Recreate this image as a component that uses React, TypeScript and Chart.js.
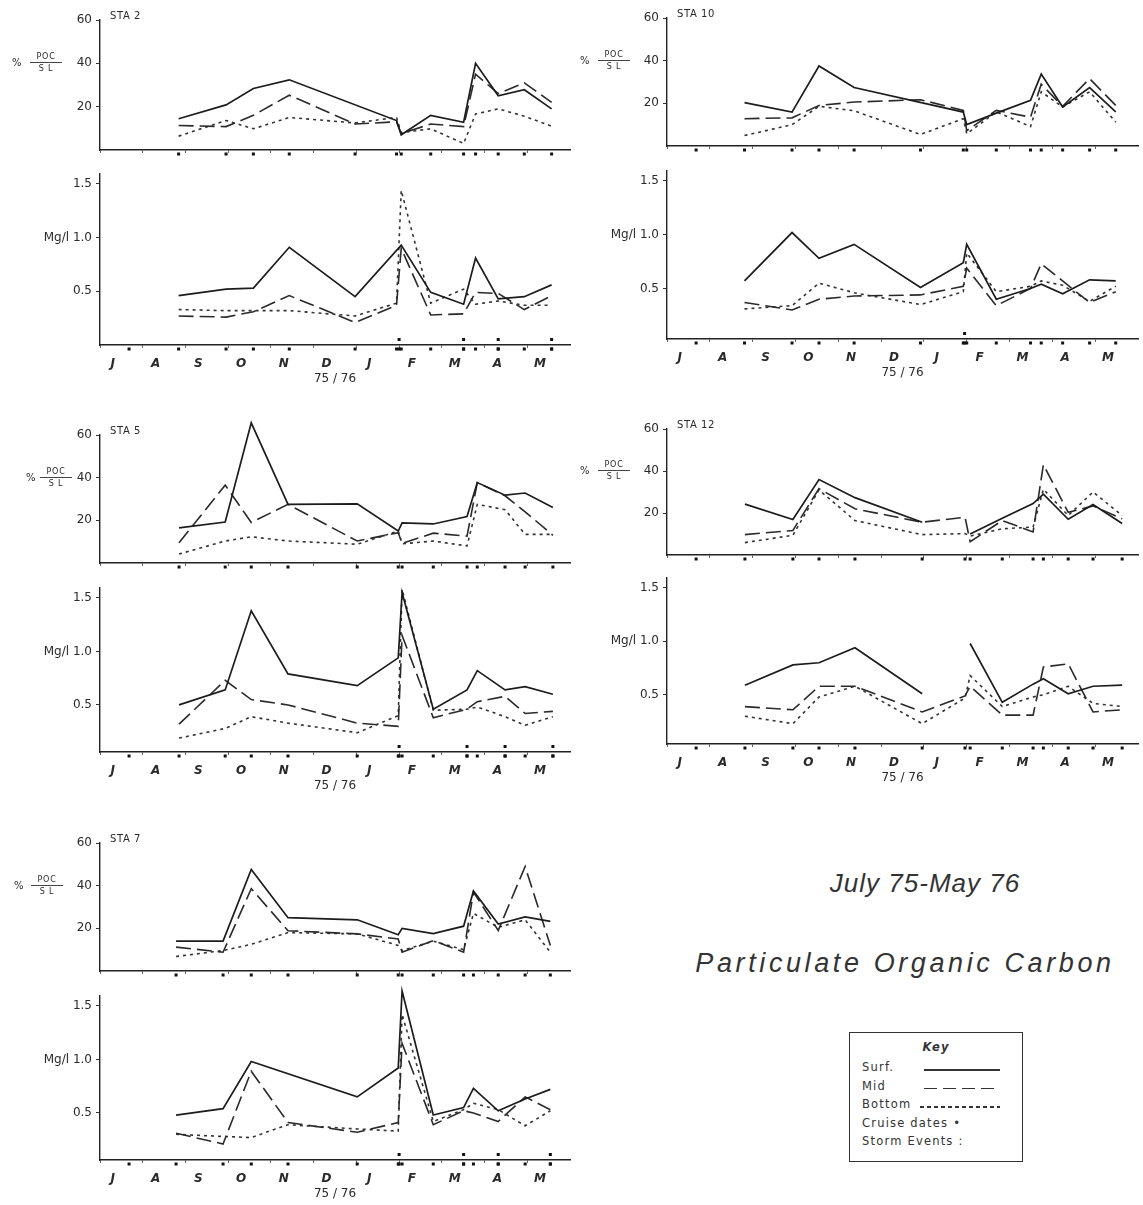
import React, { useEffect, useRef } from 'react';
import { Chart, registerables } from 'chart.js';

Chart.register(...registerables);

const GAP = NaN; // a break in the line (no sampling)

const MONTH_LABELS = ['J', 'A', 'S', 'O', 'N', 'D', 'J', 'F', 'M', 'A', 'M'];
const YEAR_LABEL = '75 / 76';
const POC_TICKS = [20, 40, 60];
const MG_TICKS = [0.5, 1.0, 1.5];
const JULY_CRUISE = 0.68;

// months after 1 July 1975
const sta2Months = [1.84, 2.95, 3.59, 4.43, 5.97, 6.94, 7.05, 7.74, 8.51, 8.79, 9.32, 9.93, 10.57];
const sta2PocSurf = [14.4, 20.8, 28.4, 32.4, null, 13.6, 7, 16, 12.8, 40, 25, 27.8, 19];
const sta2PocMid = [11.3, 10.8, 16, 25.3, 12, 13, 7.5, 12, 10.8, 35, 26, 31, 22];
const sta2PocBottom = [6.4, 13.6, 9.8, 15, 12.5, 15, 8, 9.8, 3, 16.6, 19, 15.6, 11];
const sta2MgSurf = [0.46, 0.52, 0.53, 0.91, 0.45, null, 0.93, 0.49, 0.38, 0.81, 0.43, 0.45, 0.56];
const sta2MgMid = [0.27, 0.26, 0.31, 0.46, 0.21, 0.37, 0.9, 0.28, 0.29, 0.49, 0.48, 0.33, 0.46];
const sta2MgBottom = [0.33, 0.32, 0.32, 0.32, 0.27, 0.39, 1.44, 0.39, 0.52, 0.38, 0.41, 0.37, 0.37];
const sta2Storms = [7.0, 8.51, 9.32, 10.57];

const sta10Months = [1.81, 2.92, 3.55, 4.37, 5.92, 6.92, 7.0, 7.69, 8.49, 8.74, 9.24, 9.87, 10.48];
const sta10PocSurf = [20.3, 15.9, 37.5, 27.4, null, 15.9, 10, 15.4, 21.4, 33.7, 18.3, 27.4, 16];
const sta10PocMid = [12.8, 13.2, 19, 20.6, 21.7, 16.7, 7.2, 16.7, 13.5, 29, 18.6, 31.6, 19];
const sta10PocBottom = [4.9, 10, 18.6, 16.5, 5.4, 12.8, 5.7, 16, 9.1, 25.4, 18.3, 25.4, 11.2];
const sta10MgSurf = [0.57, 1.02, 0.78, 0.91, 0.51, 0.74, 0.91, 0.4, 0.5, 0.54, 0.45, 0.58, 0.57];
const sta10MgMid = [0.37, 0.3, 0.4, 0.43, 0.44, 0.52, 0.69, 0.34, 0.5, 0.73, 0.57, 0.37, 0.47];
const sta10MgBottom = [0.31, 0.34, 0.55, 0.46, 0.35, 0.47, 0.83, 0.47, 0.52, 0.57, 0.53, 0.38, 0.52];
const sta10Storms = [6.95];

const sta5Months = [1.85, 2.93, 3.54, 4.4, 6.02, 6.98, 7.07, 7.8, 8.59, 8.83, 9.48, 9.95, 10.6];
const sta5PocSurf = [16.5, 19.2, 65.7, 27.5, 27.7, 15, 18.8, 18.3, 21.8, 37.7, 31.8, 32.8, 26];
const sta5PocMid = [9.5, 36.5, 19, 27.5, 10.3, 14.2, 9.2, 14, 12.6, 37.7, 31.5, 24, 13];
const sta5PocBottom = [4.2, 10.3, 12.3, 10.3, 8.8, 15, 9, 10.3, 8, 27.5, 25, 13.4, 13.4];
const sta5MgSurf = [0.5, 0.64, 1.38, 0.79, 0.68, 0.94, 1.55, 0.46, 0.64, 0.82, 0.64, 0.67, 0.6];
const sta5MgMid = [0.32, 0.73, 0.55, 0.5, 0.33, 0.3, 1.15, 0.38, 0.46, 0.53, 0.58, 0.42, 0.44];
const sta5MgBottom = [0.19, 0.28, 0.39, 0.33, 0.24, 0.4, 1.58, 0.45, 0.46, 0.48, 0.39, 0.31, 0.39];
const sta5Storms = [7.0, 8.59, 9.48, 10.6];

const sta12Months = [1.82, 2.94, 3.55, 4.39, 5.96, 6.96, 7.08, 7.83, 8.55, 8.79, 9.37, 9.95, 10.63];
const sta12PocSurf = [24.2, 16.9, 35.9, 27.3, 15.6, GAP, 10, 17.5, 24.5, 29, 17, 24, 15];
const sta12PocMid = [9.7, 11.7, 31.6, 22, 15.6, 18, 6.3, 16.4, 11, 43, 20.3, 23.4, 17.2];
const sta12PocBottom = [5.9, 9.4, 31, 16.4, 9.7, 10.2, 9, 12.5, 13.3, 31.3, 18.8, 30, 18.8];
const sta12MgSurf = [0.59, 0.78, 0.8, 0.94, 0.51, GAP, 0.98, 0.43, 0.6, 0.65, 0.51, 0.58, 0.59];
const sta12MgMid = [0.39, 0.36, 0.58, 0.58, 0.34, 0.49, 0.58, 0.31, 0.31, 0.76, 0.79, 0.34, 0.36];
const sta12MgBottom = [0.3, 0.23, 0.48, 0.58, 0.23, 0.47, 0.68, 0.39, 0.48, 0.5, 0.58, 0.42, 0.39];
const sta12Storms: number[] = [];

const sta7Months = [1.78, 2.88, 3.54, 4.4, 6.02, 6.98, 7.07, 7.8, 8.51, 8.74, 9.32, 9.95, 10.54];
const sta7PocSurf = [14, 14, 47.6, 25, 24, 17, 20, 17.5, 21, 37.5, 22, 25.4, 23.3];
const sta7PocMid = [11.2, 8.8, 38.6, 18.9, 17.4, 15, 8.8, 14.3, 8.8, 37, 19, 49, 12];
const sta7PocBottom = [6.8, 9.6, 12.5, 18, 17.4, 12, 9.6, 14, 10, 27, 20.5, 24, 8.8];
const sta7MgSurf = [0.48, 0.54, 0.98, null, 0.65, 0.92, 1.64, 0.48, 0.55, 0.73, 0.52, 0.63, 0.72];
const sta7MgMid = [0.31, 0.21, 0.89, 0.41, 0.32, 0.41, 1.15, 0.39, 0.52, 0.5, 0.42, 0.65, 0.53];
const sta7MgBottom = [0.3, 0.28, 0.27, 0.39, 0.35, 0.33, 1.42, 0.42, 0.53, 0.59, 0.53, 0.38, 0.52];
const sta7Storms = [7.0, 8.51, 9.32, 10.54];

const STATIONS = [
  { name: 'STA 2', months: sta2Months, poc: [sta2PocSurf, sta2PocMid, sta2PocBottom], mg: [sta2MgSurf, sta2MgMid, sta2MgBottom], storms: sta2Storms, julyTop: false },
  { name: 'STA 10', months: sta10Months, poc: [sta10PocSurf, sta10PocMid, sta10PocBottom], mg: [sta10MgSurf, sta10MgMid, sta10MgBottom], storms: sta10Storms, julyTop: true },
  { name: 'STA 5', months: sta5Months, poc: [sta5PocSurf, sta5PocMid, sta5PocBottom], mg: [sta5MgSurf, sta5MgMid, sta5MgBottom], storms: sta5Storms, julyTop: false },
  { name: 'STA 12', months: sta12Months, poc: [sta12PocSurf, sta12PocMid, sta12PocBottom], mg: [sta12MgSurf, sta12MgMid, sta12MgBottom], storms: sta12Storms, julyTop: true },
  { name: 'STA 7', months: sta7Months, poc: [sta7PocSurf, sta7PocMid, sta7PocBottom], mg: [sta7MgSurf, sta7MgMid, sta7MgBottom], storms: sta7Storms, julyTop: false },
];

// page placement of each station block (layout only)
const PLACES = [
  { x: 100, mpx: 42.7, topY: 20, topAxis: 150, botY: 183, mgMin: 0.0, pctX: 12, fracX: 46 },
  { x: 667, mpx: 42.8, topY: 18, topAxis: 146, botY: 180, mgMin: 0.03, pctX: 580, fracX: 614 },
  { x: 100, mpx: 42.7, topY: 435, topAxis: 563, botY: 597, mgMin: 0.06, pctX: 26, fracX: 56 },
  { x: 667, mpx: 42.8, topY: 429, topAxis: 555, botY: 587, mgMin: 0.04, pctX: 580, fracX: 614 },
  { x: 100, mpx: 42.7, topY: 843, topAxis: 971, botY: 1005, mgMin: 0.06, pctX: 14, fracX: 47 },
];

const STYLES = [
  { dash: [] as number[], color: '#1c1c1c', width: 1.7 },
  { dash: [15, 6], color: '#2a2a2a', width: 1.6 },
  { dash: [3, 4], color: '#333333', width: 1.6 },
];

const FONT = "'DejaVu Sans', 'Liberation Sans', sans-serif";
const INK = '#2a2a2a';
const MG_PX = 108; // px per mg/l unit
const MG_MAX = 1.6;

function points(months: number[], vals: (number | null)[]) {
  const out: { x: number; y: number }[] = [];
  months.forEach((m, i) => {
    const v = vals[i];
    if (v === null || v === undefined) return;
    out.push({ x: m, y: v });
  });
  return out;
}

// draws cruise-date dots (just below the axis) and storm-event pairs through the chart's own scales
const cruisePlugin = {
  id: 'cruiseDots',
  afterDatasetsDraw(chart: any, _args: any, opts: any) {
    const { ctx } = chart;
    const x = chart.scales.x;
    const y = chart.scales.y;
    const axisY = y.getPixelForValue(y.min);
    ctx.save();
    ctx.fillStyle = '#111';
    (opts.cruise || []).forEach((m: number) => {
      const px = x.getPixelForValue(m);
      ctx.fillRect(px - 1.5, axisY + 2.5, 3, 3);
    });
    (opts.storms || []).forEach((m: number) => {
      const px = x.getPixelForValue(m);
      ctx.fillRect(px - 1.5, axisY - 7, 3, 3);
      ctx.fillRect(px - 1.5, axisY + 2.5, 3, 3);
    });
    ctx.restore();
  },
};

function buildConfig(kind: 'poc' | 'mg', st: any, pl: any, padTop: number, xAxisH: number, yAxisW: number) {
  const series = kind === 'poc' ? st.poc : st.mg;
  const yMin = kind === 'poc' ? 0 : pl.mgMin;
  const yMax = kind === 'poc' ? 60 : MG_MAX;
  const ticks = kind === 'poc' ? POC_TICKS : MG_TICKS;
  const cruise = kind === 'mg' || st.julyTop ? [JULY_CRUISE, ...st.months] : st.months;

  const datasets: any[] = series.map((vals: any, i: number) => ({
    type: 'line',
    data: points(st.months, vals),
    borderColor: STYLES[i].color,
    borderWidth: STYLES[i].width,
    borderDash: STYLES[i].dash,
    pointRadius: 0,
    tension: 0,
    fill: false,
    spanGaps: false,
    clip: false,
  }));

  const showMonths = kind === 'mg';
  return {
    type: 'line',
    data: { datasets },
    plugins: [cruisePlugin],
    options: {
      responsive: false,
      animation: false,
      devicePixelRatio: 1,
      events: [],
      layout: { padding: { top: padTop, right: 6, left: 0, bottom: 0 }, autoPadding: false },
      plugins: {
        legend: { display: false },
        tooltip: { enabled: false },
        title: { display: false },
        cruiseDots: { cruise, storms: kind === 'mg' ? st.storms : [] },
      },
      scales: {
        x: {
          type: 'linear',
          min: 0,
          max: 11,
          afterFit: (s: any) => { s.height = xAxisH; },
          afterBuildTicks: (s: any) => { s.ticks = MONTH_LABELS.map((_, i) => ({ value: i })); },
          ticks: {
            autoSkip: false,
            maxRotation: 0,
            labelOffset: 0.3 * pl.mpx,
            padding: 9,
            color: INK,
            font: { family: FONT, size: 12, style: 'italic', weight: 'bold' },
            callback: (v: any) => (showMonths ? MONTH_LABELS[Math.round(v)] : ''),
          },
          grid: { drawOnChartArea: false, drawTicks: true, tickLength: 3, color: '#666', lineWidth: 1 },
          border: { display: true, color: '#222', width: 1.4 },
          title: {
            display: showMonths,
            text: YEAR_LABEL,
            color: INK,
            font: { family: FONT, size: 12 },
            padding: { top: 0, bottom: 0 },
          },
        },
        y: {
          type: 'linear',
          min: yMin,
          max: yMax,
          afterFit: (s: any) => { s.width = yAxisW; },
          afterBuildTicks: (s: any) => { s.ticks = ticks.map((v) => ({ value: v })); },
          ticks: {
            padding: 4,
            color: INK,
            font: { family: FONT, size: 12 },
            callback: (v: any) => (kind === 'poc' ? String(v) : v === 1 ? 'Mg/l 1.0' : Number(v).toFixed(1)),
          },
          grid: { drawOnChartArea: false, drawTicks: true, tickLength: 4, color: '#333', lineWidth: 1 },
          border: { display: true, color: '#222', width: 1.4 },
        },
      },
    },
  };
}

function PanelChart({ left, top, width, height, config }: any) {
  const ref = useRef<HTMLCanvasElement>(null);
  useEffect(() => {
    const chart = new Chart(ref.current as HTMLCanvasElement, config);
    return () => chart.destroy();
  }, []);
  return (
    <canvas
      ref={ref}
      width={Math.round(width)}
      height={Math.round(height)}
      style={{ position: 'absolute', left: Math.round(left), top: Math.round(top), width: Math.round(width), height: Math.round(height) }}
    />
  );
}

function StationBlock({ st, pl }: any) {
  const yAxisW = 66;
  const plotW = 11 * pl.mpx;
  // top panel (% POC / SL)
  const topPad = 18;
  const topXH = 12;
  const topH = topPad + (pl.topAxis - pl.topY) + topXH;
  const topCfg = buildConfig('poc', st, pl, topPad, topXH, yAxisW);
  // bottom panel (mg/l)
  const mgPlotTop = pl.botY - (MG_MAX - 1.5) * MG_PX;
  const mgPlotH = (MG_MAX - pl.mgMin) * MG_PX;
  const botPad = 10;
  const botXH = 41;
  const botH = botPad + mgPlotH + botXH;
  const botCfg = buildConfig('mg', st, pl, botPad, botXH, yAxisW);
  const y40 = pl.topY + (pl.topAxis - pl.topY) / 3;
  return (
    <>
      <PanelChart left={pl.x - yAxisW} top={pl.topY - topPad} width={yAxisW + plotW + 6} height={topH} config={topCfg} />
      <PanelChart left={pl.x - yAxisW} top={mgPlotTop - botPad} width={yAxisW + plotW + 6} height={botH} config={botCfg} />
      <div style={{ position: 'absolute', left: pl.x + 10, top: pl.topY - 10, fontSize: 10, letterSpacing: 0.6, color: INK }}>{st.name}</div>
      <div style={{ position: 'absolute', left: pl.pctX, top: y40 - 6, fontSize: 10, color: INK }}>%</div>
      <div style={{ position: 'absolute', left: pl.fracX - 16, top: y40 - 12, width: 32, textAlign: 'center', fontSize: 8, lineHeight: '11px', letterSpacing: 0.8, color: INK }}>
        <div style={{ borderBottom: '1px solid #444' }}>POC</div>
        <div>S L</div>
      </div>
    </>
  );
}

export default function App() {
  return (
    <div style={{ position: 'absolute', left: 0, top: 0, width: 1143, height: 1205, background: '#ffffff', overflow: 'hidden', fontFamily: FONT, color: INK }}>
      {STATIONS.map((st, i) => (
        <StationBlock key={st.name} st={st} pl={PLACES[i]} />
      ))}
      <div style={{ position: 'absolute', left: 760, top: 868, width: 330, textAlign: 'center', fontFamily: "'Liberation Sans', sans-serif", fontStyle: 'italic', fontSize: 26, letterSpacing: 1, color: '#333' }}>
        July 75-May 76
      </div>
      <div style={{ position: 'absolute', left: 660, top: 948, width: 490, textAlign: 'center', fontFamily: "'Liberation Sans', sans-serif", fontStyle: 'italic', fontSize: 27, letterSpacing: 3.6, color: '#333' }}>
        Particulate Organic Carbon
      </div>
      <div style={{ position: 'absolute', left: 849, top: 1032, width: 174, height: 130, border: '1.5px solid #333', boxSizing: 'border-box', fontSize: 11.5, letterSpacing: 1.2, color: '#333' }}>
        <div style={{ position: 'absolute', left: 0, width: '100%', top: 7, textAlign: 'center', fontStyle: 'italic', fontWeight: 'bold' }}>Key</div>
        <div style={{ position: 'absolute', left: 12, top: 27 }}>Surf.</div>
        <div style={{ position: 'absolute', left: 74, width: 76, top: 36, height: 1.5, background: '#333' }} />
        <div style={{ position: 'absolute', left: 12, top: 45.5 }}>Mid</div>
        <div style={{ position: 'absolute', left: 74, width: 76, top: 54.5, height: 1.5, background: 'repeating-linear-gradient(to right, #333 0 13px, transparent 13px 19px)' }} />
        <div style={{ position: 'absolute', left: 12, top: 64 }}>Bottom</div>
        <div style={{ position: 'absolute', left: 70, width: 80, top: 73, height: 1.5, background: 'repeating-linear-gradient(to right, #333 0 4px, transparent 4px 7px)' }} />
        <div style={{ position: 'absolute', left: 12, top: 82.5 }}>Cruise dates •</div>
        <div style={{ position: 'absolute', left: 12, top: 101 }}>Storm Events :</div>
      </div>
    </div>
  );
}
